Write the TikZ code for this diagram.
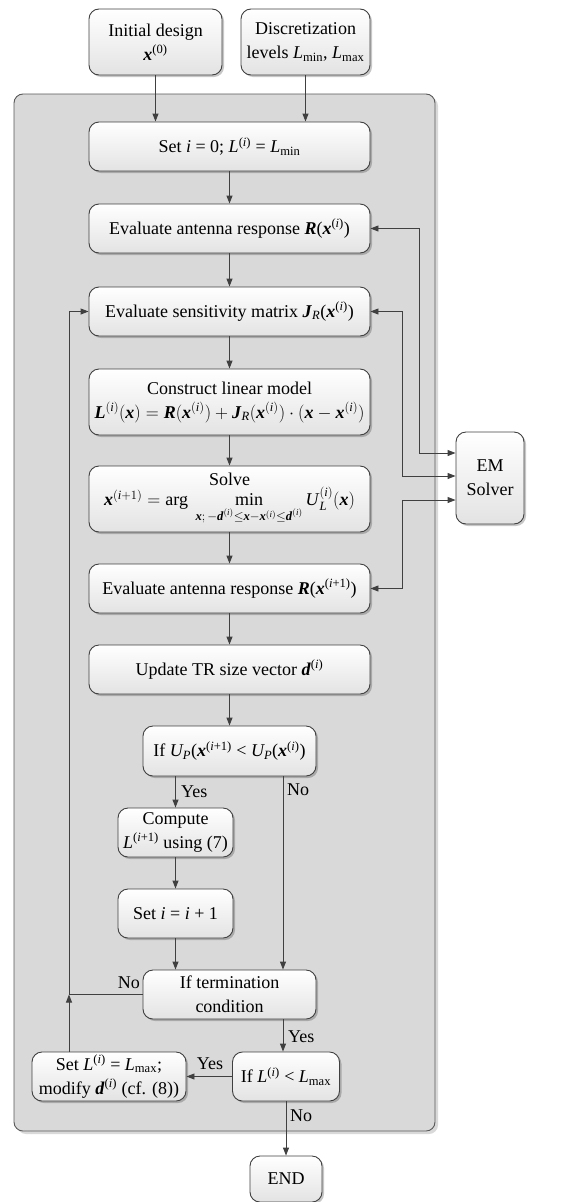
\RequirePackage{fix-cm}
\documentclass[tikz,border=0pt]{standalone}
\usepackage{amsmath}
\usepackage{fontspec}
\setmainfont{Liberation Serif}
\usetikzlibrary{arrows.meta,shadows,calc}
\definecolor{linec}{HTML}{404040}
\definecolor{panelc}{HTML}{D9D9D9}
\definecolor{framec}{HTML}{595959}
\newcommand{\BI}[1]{\textbf{\textit{#1}}}
\newcommand{\BV}[1]{\text{\textbf{\textit{#1}}}}
\newcommand{\IT}[1]{\text{\textit{#1}}}
\newcommand{\SupI}{\textsuperscript{(\textit{i})}}
\newcommand{\SupIp}{\textsuperscript{(\textit{i}+1)}}
\tikzset{
  flowbox/.style={draw=linec, line width=0.9pt, rounded corners=10pt,
    top color=white, bottom color=black!11,
    drop shadow={shadow xshift=2pt, shadow yshift=-2pt, opacity=0.22, fill=black},
    align=center, inner sep=0pt, font=\fontsize{18}{24}\selectfont, text=black},
  lbl/.style={inner sep=1pt, font=\fontsize{18}{22}\selectfont, text=black},
  conn/.style={draw=linec, line width=0.9pt, -{Triangle[length=8pt,width=6pt]}},
  bconn/.style={draw=linec, line width=0.9pt, {Triangle[length=8pt,width=6pt]}-{Triangle[length=8pt,width=6pt]}},
  plain/.style={draw=linec, line width=0.9pt},
  panel/.style={draw=framec, line width=0.9pt, fill=panelc, rounded corners=9pt,
    drop shadow={shadow xshift=3pt, shadow yshift=-3pt, opacity=0.15, fill=black}}
}
\begin{document}
\begin{tikzpicture}[x=1pt,y=-1pt]
\useasboundingbox (0,0) rectangle (584,1202);
% panel
\path[panel] (14,94) rectangle (435,1131);
% top inputs
\node[flowbox, minimum width=133pt, minimum height=66pt] (init) at (155.5,42) {Initial design\\ \BI{x}\textsuperscript{(0)}};
\node[flowbox, minimum width=129pt, minimum height=66pt] (disc) at (305.5,42) {Discretization\\ levels \textit{L}\textsubscript{min}, \textit{L}\textsubscript{max}};
% main column
\node[flowbox, minimum width=281pt, minimum height=49pt] (set0) at (229.5,146.5) {Set \textit{i} = 0; \textit{L}\SupI{} = \textit{L}\textsubscript{min}};
\node[flowbox, minimum width=281pt, minimum height=49pt] (evalR) at (229.5,228.5) {Evaluate antenna response \BI{R}(\BI{x}\SupI)};
\node[flowbox, minimum width=281pt, minimum height=49pt] (sens) at (229.5,311.5) {Evaluate sensitivity matrix \BI{J}\textsubscript{\textit{R}}(\BI{x}\SupI)};
\node[flowbox, minimum width=281pt, minimum height=66pt] (lin) at (229.5,402) {Construct linear model\\ $\BV{L}^{(\IT{i})}(\BV{x}) = \BV{R}(\BV{x}^{(\IT{i})}) + \BV{J}_{\IT{R}}(\BV{x}^{(\IT{i})})\cdot(\BV{x}-\BV{x}^{(\IT{i})})$};
\node[flowbox, minimum width=281pt, minimum height=66pt] (solve) at (229.5,499) {Solve\\[-4pt] $\BV{x}^{(\IT{i}+1)} = \text{arg}\ \mathop{\text{min}}\limits_{\BV{x};\,-\BV{d}^{(\IT{i})}\le \BV{x}-\BV{x}^{(\IT{i})}\le \BV{d}^{(\IT{i})}} \IT{U}_{\IT{L}}^{(\IT{i})}(\BV{x})$};
\node[flowbox, minimum width=281pt, minimum height=49pt] (evalR1) at (229.5,588.5) {Evaluate antenna response \BI{R}(\BI{x}\SupIp)};
\node[flowbox, minimum width=281pt, minimum height=49pt] (upd) at (229.5,669.5) {Update TR size vector \BI{d}\SupI};
\node[flowbox, minimum width=173pt, minimum height=50pt] (ifU) at (229.5,751) {If \textit{U\textsubscript{P}}(\BI{x}\SupIp{} < \textit{U\textsubscript{P}}(\BI{x}\SupI)};
\node[flowbox, minimum width=115pt, minimum height=49pt] (comp) at (175.5,832.5) {Compute\\ \textit{L}\SupIp{} using (7)};
\node[flowbox, minimum width=115pt, minimum height=49pt] (seti) at (175.5,913.5) {Set \textit{i} = \textit{i} + 1};
\node[flowbox, minimum width=173pt, minimum height=49pt] (term) at (229.5,994.5) {If termination\\ condition};
\node[flowbox, minimum width=107pt, minimum height=49pt] (ifL) at (286,1076.5) {If \textit{L}\SupI{} < \textit{L}\textsubscript{max}};
\node[flowbox, minimum width=154pt, minimum height=49pt] (setL) at (109,1076.5) {Set \textit{L}\SupI{} = \textit{L}\textsubscript{max};\\ modify \BI{d}\SupI{} (cf. (8))};
\node[flowbox, minimum width=72pt, minimum height=46pt] (end) at (286,1179) {END};
\node[flowbox, minimum width=68pt, minimum height=92pt] (em) at (490,478) {EM\\ Solver};
% helper coordinates
\coordinate (nox) at (283,0);
\coordinate (loopx) at (69,0);
\coordinate (r1) at (419,0);
\coordinate (r2) at (402,0);
\coordinate (e1) at ($(em.west)+(0,-25)$);
\coordinate (e2) at ($(em.west)+(0,-2)$);
\coordinate (e3) at ($(em.west)+(0,22)$);
% connectors
\draw[conn] (init.south) -- (init.south |- set0.north);
\draw[conn] (disc.south) -- (disc.south |- set0.north);
\draw[conn] (set0) -- (evalR);
\draw[conn] (evalR) -- (sens);
\draw[conn] (sens) -- (lin);
\draw[conn] (lin) -- (solve);
\draw[conn] (solve) -- (evalR1);
\draw[conn] (evalR1) -- (upd);
\draw[conn] (upd) -- (ifU);
\draw[conn] (comp.north |- ifU.south) -- (comp.north);
\draw[conn] (comp) -- (seti);
\draw[conn] (seti.south) -- (seti.south |- term.north);
\draw[conn] (nox |- ifU.south) -- (nox |- term.north);
\draw[conn] (term.west) -- (loopx |- term.west) -- (loopx |- sens.west) -- (sens.west);
\draw[conn] (loopx |- setL.north) -- (loopx |- term.west);
\draw[conn] (nox |- term.south) -- (nox |- ifL.north);
\draw[conn] (ifL.west) -- (setL.east);
\draw[conn] (ifL.south) -- (end.north);
\draw[bconn] (evalR.east) -- (r1 |- evalR.east) -- (r1 |- e1) -- (e1);
\draw[bconn] (sens.east) -- (r2 |- sens.east) -- (r2 |- e2) -- (e2);
\draw[bconn] (evalR1.east) -- (r2 |- evalR1.east) -- (r2 |- e3) -- (e3);
% labels
\node[lbl, anchor=west] (yes1) at (180,792) {Yes};
\node[lbl, anchor=west] (no1) at (286,790) {No};
\node[lbl, anchor=east] (no2) at (141,983) {No};
\node[lbl, anchor=west] (yes2) at (287,1037) {Yes};
\node[lbl, anchor=center] (yes3) at (210,1064) {Yes};
\node[lbl, anchor=west] (no3) at (289,1116) {No};
\end{tikzpicture}
\end{document}
